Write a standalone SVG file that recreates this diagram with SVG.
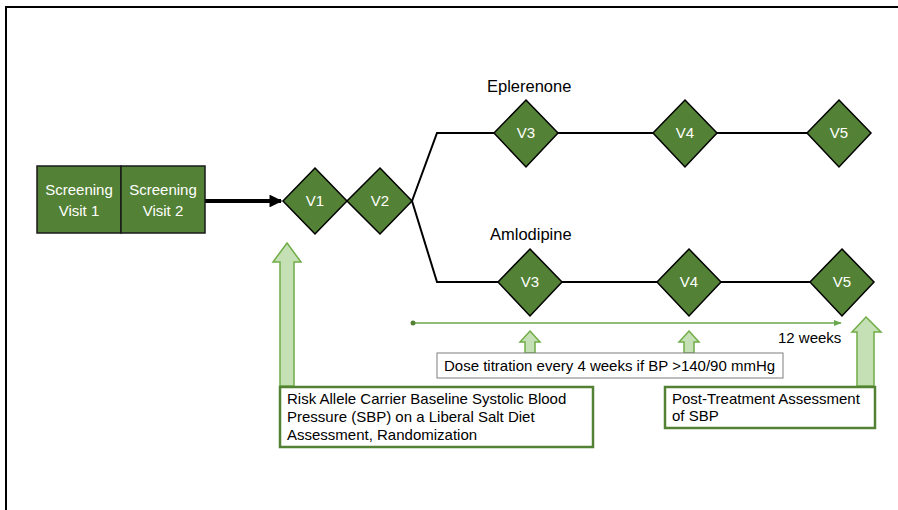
<svg xmlns="http://www.w3.org/2000/svg" width="898" height="510" viewBox="0 0 898 510">
<defs>
<style>
text{font-family:"Liberation Sans",Arial,sans-serif;font-size:15px;fill:#000}
.w{fill:#fff;text-anchor:middle}
.dia{fill:#538135;stroke:#000;stroke-width:1.5}
.scr{fill:#538135;stroke:#1a1a1a;stroke-width:1.5}
.ln{fill:none;stroke:#000;stroke-width:2}
.la{fill:#c5e0b4;stroke:#70ad47;stroke-width:1.5}
.gb{fill:#fff;stroke:#548235;stroke-width:2.5}
.hd{font-size:16.5px}
</style>
<marker id="ah" viewBox="0 0 10 10" refX="9" refY="5" markerWidth="3.2" markerHeight="3.2" orient="auto"><path d="M0,0L10,5L0,10z" fill="#000"/></marker>
<marker id="gh" viewBox="0 0 10 10" refX="9" refY="5" markerWidth="6" markerHeight="6" orient="auto"><path d="M0,1L10,5L0,9z" fill="#6aa84f"/></marker>
</defs>
<path d="M6,510V7H898" fill="none" stroke="#000" stroke-width="2"/>
<g id="connectors">
<line x1="205" y1="201" x2="281" y2="201" stroke="#000" stroke-width="4" marker-end="url(#ah)"/>
<path class="ln" d="M412,201L437,133H494"/>
<path class="ln" d="M412,201L437,282H498"/>
<line class="ln" x1="558" y1="133" x2="653" y2="133"/>
<line class="ln" x1="717" y1="133" x2="807" y2="133"/>
<line class="ln" x1="562" y1="282" x2="657" y2="282"/>
<line class="ln" x1="721" y1="282" x2="810" y2="282"/>
<line x1="413" y1="323" x2="841" y2="323" stroke="#6aa84f" stroke-width="1.3" marker-end="url(#gh)"/>
<circle cx="413" cy="323" r="2.5" fill="#548235"/>
</g>
<g id="screening1"><rect class="scr" x="37" y="166" width="84" height="67"/><text class="w" x="79" y="195">Screening</text><text class="w" x="79" y="216">Visit 1</text></g>
<g id="screening2"><rect class="scr" x="121" y="166" width="84" height="67"/><text class="w" x="163" y="195">Screening</text><text class="w" x="163" y="216">Visit 2</text></g>
<g id="v1"><path class="dia" d="M315,168L347,201L315,234L283,201z"/><text class="w" x="315" y="206">V1</text></g>
<g id="v2"><path class="dia" d="M380,168L412,201L380,234L347,201z"/><text class="w" x="380" y="206">V2</text></g>
<text class="hd" x="487" y="92">Eplerenone</text>
<text class="hd" x="490" y="240">Amlodipine</text>
<g id="e-v3"><path class="dia" d="M526,100L558,133L526,167L494,133z"/><text class="w" x="526" y="138">V3</text></g>
<g id="e-v4"><path class="dia" d="M685,100L717,133L685,167L653,133z"/><text class="w" x="685" y="138">V4</text></g>
<g id="e-v5"><path class="dia" d="M839,100L871,133L839,167L807,133z"/><text class="w" x="839" y="138">V5</text></g>
<g id="a-v3"><path class="dia" d="M530,249L562,282L530,316L498,282z"/><text class="w" x="530" y="287">V3</text></g>
<g id="a-v4"><path class="dia" d="M689,249L721,282L689,316L657,282z"/><text class="w" x="689" y="287">V4</text></g>
<g id="a-v5"><path class="dia" d="M842,249L874,282L842,316L810,282z"/><text class="w" x="842" y="287">V5</text></g>
<text x="778" y="343">12 weeks</text>
<g id="arrow-small1"><path class="la" d="M530,331L540,342H535V353H525V342H520z"/></g>
<g id="arrow-small2"><path class="la" d="M689,331L699,342H694V353H684V342H679z"/></g>
<g id="arrow-big1"><path class="la" d="M287,243L301,262H294V386H280V262H273z"/></g>
<g id="arrow-big2"><path class="la" d="M866,317L881,332H874V386H857V332H852z"/></g>
<g id="dose"><rect x="437" y="353" width="346" height="25" fill="#fff" stroke="#7f7f7f" stroke-width="1"/><text x="444" y="371">Dose titration every 4 weeks if BP &gt;140/90 mmHg</text></g>
<g id="risk"><rect class="gb" x="280" y="387" width="313" height="60"/><text x="287" y="404">Risk Allele Carrier Baseline Systolic Blood</text><text x="287" y="422">Pressure (SBP) on a Liberal Salt Diet</text><text x="287" y="440">Assessment, Randomization</text></g>
<g id="post"><rect class="gb" x="665" y="387" width="210" height="41"/><text x="672" y="404">Post-Treatment Assessment</text><text x="672" y="421">of SBP</text></g>
</svg>
